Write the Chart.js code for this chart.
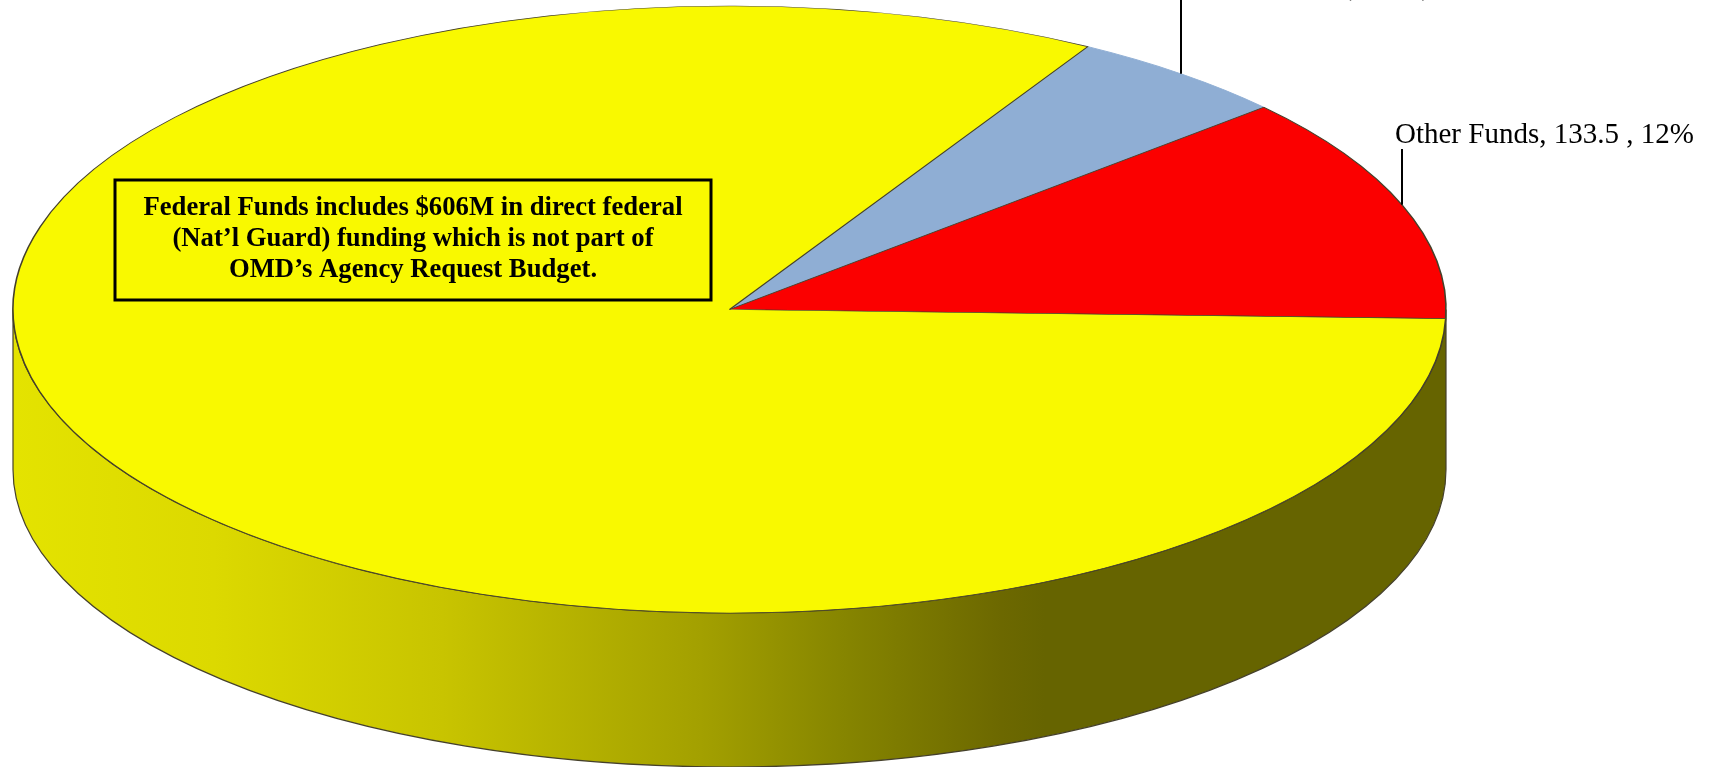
<!DOCTYPE html>
<html>
<head>
<meta charset="utf-8">
<title>Budget by fund type</title>
<script src="https://cdn.jsdelivr.net/npm/chart.js@4"></script>
<style>
    html, body { margin: 0; padding: 0; background: #fff; overflow: hidden; }
    canvas { display: block; }
</style>
</head>
<body>
<canvas id="fundsChart" width="1719" height="767"></canvas>
<script>
// Blue goes first so its pale rim gets covered by the dark edges of its neighbours
const categories = ["General Fund", "Other Funds", "Federal Funds"]
const values = [55.9, 133.5, 915.2]
const percents = [5, 12, 83]
const sliceColors = ["#8faed4", "#fb0000", "#f9f900"]
const edgeColors = ["#8faed4", "#45402a", "#45402a"]
const noteLines = [
    "Federal Funds includes $606M in direct federal",
    "(Nat\u2019l Guard) funding which is not part of",
    "OMD\u2019s Agency Request Budget."
]

// Flattening of the pie and the side wall below it
const radiusX = 716.5
const radiusY = 303.5
const wallDepth = 160
const wallRadiusY = 297.5
const squash = radiusY / radiusX

// Shade across the wall, left to right (offset over the pie width, colour)
const wallShades = [
    [0, "#e4e300"],
    [0.14, "#dcd900"],
    [0.3, "#c8c400"],
    [0.48, "#a3a000"],
    [0.58, "#868500"],
    [0.69, "#6c6800"],
    [0.72, "#666400"],
    [1, "#666400"]
]

// Labelled slices: index into categories, rim x of the leader, top of the leader, text left and baseline
const callouts = [
    { index: 0, rimX: 1181, top: 0, textX: 1190, textY: -4 },
    { index: 1, rimX: 1402, top: 149, textX: 1395, textY: 143 }
]

const tiltedPie = {
    id: "tiltedPie",
    beforeDatasetsDraw(chart) {
        const ctx = chart.ctx
        const arc = chart.getDatasetMeta(0).data[0]
        const cx = arc.x
        const cy = arc.y

        // Side wall along the front half of the rim
        const shade = ctx.createLinearGradient(cx - radiusX, 0, cx + radiusX, 0)
        for (const [offset, color] of wallShades) {
            shade.addColorStop(offset, color)
        }
        ctx.save()
        ctx.beginPath()
        ctx.ellipse(cx, cy, radiusX, radiusY, 0, 0, Math.PI)
        ctx.ellipse(cx, cy + wallDepth, radiusX, wallRadiusY, 0, Math.PI, 0, true)
        ctx.closePath()
        ctx.fillStyle = shade
        ctx.fill()
        ctx.lineWidth = 1.2
        ctx.strokeStyle = "#45402a"
        ctx.stroke()
        ctx.restore()

        // The slices themselves get flattened about the pie centre
        ctx.save()
        ctx.translate(0, cy)
        ctx.scale(1, squash)
        ctx.translate(0, -cy)
    },
    afterDatasetsDraw(chart) {
        chart.ctx.restore()
    },
    afterDraw(chart) {
        const ctx = chart.ctx
        const arc = chart.getDatasetMeta(0).data[0]

        ctx.save()
        ctx.fillStyle = "#000"
        ctx.strokeStyle = "#000"
        ctx.textBaseline = "alphabetic"

        // Leader lines and labels
        ctx.font = '29px "Liberation Serif"'
        ctx.textAlign = "left"
        ctx.lineWidth = 2
        for (const c of callouts) {
            const dx = (c.rimX - arc.x) / radiusX
            const rimY = arc.y - radiusY * Math.sqrt(1 - dx * dx)
            ctx.beginPath()
            ctx.moveTo(c.rimX, c.top)
            ctx.lineTo(c.rimX, rimY)
            ctx.stroke()
            ctx.fillText(`${categories[c.index]}, ${values[c.index]} , ${percents[c.index]}%`, c.textX, c.textY)
        }

        // Note box on the federal slice
        ctx.lineWidth = 3
        ctx.strokeRect(115, 180, 596, 120)
        ctx.font = 'bold 26.7px "Liberation Serif"'
        ctx.textAlign = "center"
        noteLines.forEach((line, i) => {
            ctx.fillText(line, 413, 215 + i * 31)
        })
        ctx.restore()
    }
}

new Chart(document.getElementById("fundsChart"), {
    type: "pie",
    data: {
        labels: categories,
        datasets: [{
            data: values,
            backgroundColor: sliceColors,
            borderColor: edgeColors,
            borderWidth: 1.6,
            clip: false
        }]
    },
    options: {
        responsive: false,
        animation: false,
        radius: radiusX,
        rotation: 30,
        // Padding only moves the pie centre, the radius above is absolute
        layout: { padding: { right: 260, bottom: 148 } },
        plugins: {
            legend: { display: false },
            tooltip: { enabled: false }
        }
    },
    plugins: [tiltedPie]
})
</script>
</body>
</html>
